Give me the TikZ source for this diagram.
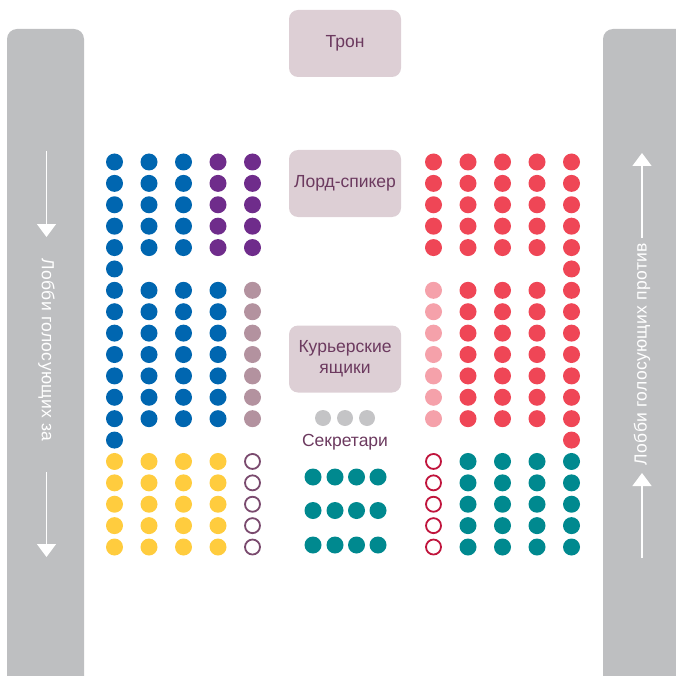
\documentclass[tikz,border=0pt]{standalone}
\usepackage{fontspec}
\setmainfont{Liberation Sans}
\usetikzlibrary{arrows.meta}
\definecolor{lobbygrey}{HTML}{BEBFC1}
\definecolor{boxfill}{HTML}{DDCFD5}
\definecolor{boxtext}{HTML}{6C3A5F}
\definecolor{cblue}{HTML}{0066B0}
\definecolor{cpurple}{HTML}{6F2C8B}
\definecolor{cmauve}{HTML}{B3929F}
\definecolor{cyellow}{HTML}{FFCC3E}
\definecolor{cred}{HTML}{EF4656}
\definecolor{cpink}{HTML}{F5A1AA}
\definecolor{cteal}{HTML}{00898F}
\definecolor{cgrey}{HTML}{C4C4C6}
\definecolor{ringpurple}{HTML}{7A4A6E}
\definecolor{ringred}{HTML}{C0143C}
\begin{document}
\begin{tikzpicture}[x=1pt,y=-1pt,
  seat/.style={circle,inner sep=0pt,minimum size=17pt,fill=#1},
  ring/.style={circle,inner sep=0pt,minimum size=15pt,draw=#1,line width=1.8pt,fill=white},
  rolebox/.style={rounded corners=9pt,fill=boxfill,text=boxtext,minimum width=112pt,minimum height=67pt,inner sep=0pt,align=center,font=\fontsize{17.5}{21}\selectfont},
  lobbytext/.style={text=white,font=\fontsize{17.5}{20}\selectfont\addfontfeatures{LetterSpace=2}},
  lobbyarrow/.style={draw=white,line width=1.3pt,-{Triangle[width=19pt,length=13pt]}}]
\useasboundingbox (0,0) rectangle (676,676);
\clip (0,0) rectangle (676,676);
% lobbies
\fill[lobbygrey,rounded corners=10pt] (7,29) rectangle (84,700);
\fill[lobbygrey,rounded corners=10pt] (603,29) rectangle (700,700);
\node[lobbytext,rotate=-90] (ltext) at (46.5,350) {Лобби голосующих за};
\node[lobbytext,rotate=90] (rtext) at (642,354) {Лобби голосующих против};
\coordinate (la1) at (46.5,151); \coordinate (la2) at (46.5,237);
\coordinate (lb1) at (46.5,472); \coordinate (lb2) at (46.5,557);
\coordinate (ra1) at (642,238); \coordinate (ra2) at (642,153);
\coordinate (rb1) at (642,558); \coordinate (rb2) at (642,473);
\draw[lobbyarrow] (la1) -- (la2);
\draw[lobbyarrow] (lb1) -- (lb2);
\draw[lobbyarrow] (ra1) -- (ra2);
\draw[lobbyarrow] (rb1) -- (rb2);
% boxes
\node[rolebox] (throne) at (345,43.5) {Трон};
\node[rolebox] (speaker) at (345,183.5) {Лорд-спикер};
\node[rolebox] (boxes) at (345,359) {Курьерские\\ящики};
% secretaries
\foreach \i/\x in {1/323,2/345,3/367} \node[seat=cgrey,minimum size=16pt] (sec\i) at (\x,418) {};
\node[text=boxtext,font=\fontsize{17.5}{21}\selectfont] (seclabel) at (345,442) {Секретари};
% centre teal
\foreach \rr/\y in {1/477,2/510.5,3/545}
  \foreach \cc/\x in {1/313,2/335,3/356.5,4/378}
    \node[seat=cteal] (ct\rr\cc) at (\x,\y) {};
% left benches
\foreach \r in {0,...,18}{
  \pgfmathsetmacro{\yy}{162+21.39*\r}
  \foreach \c in {0,...,4}{
    \pgfmathsetmacro{\xx}{114.5+34.5*\c}
    \ifnum\r<5
      \ifnum\c<3 \node[seat=cblue] (L\r-\c) at (\xx,\yy) {};
      \else \node[seat=cpurple] (L\r-\c) at (\xx,\yy) {}; \fi
    \else\ifnum\r=5
      \ifnum\c=0 \node[seat=cblue] (L\r-\c) at (\xx,\yy) {}; \fi
    \else\ifnum\r<13
      \ifnum\c<4 \node[seat=cblue] (L\r-\c) at (\xx,\yy) {};
      \else \node[seat=cmauve] (L\r-\c) at (\xx,\yy) {}; \fi
    \else\ifnum\r=13
      \ifnum\c=0 \node[seat=cblue] (L\r-\c) at (\xx,\yy) {}; \fi
    \else
      \ifnum\c<4 \node[seat=cyellow] (L\r-\c) at (\xx,\yy) {};
      \else \node[ring=ringpurple] (L\r-\c) at (\xx,\yy) {}; \fi
    \fi\fi\fi\fi
  }
}
% right benches
\foreach \r in {0,...,18}{
  \pgfmathsetmacro{\yy}{162+21.39*\r}
  \foreach \c in {0,...,4}{
    \pgfmathsetmacro{\xx}{433.5+34.5*\c}
    \ifnum\r<5
      \node[seat=cred] (R\r-\c) at (\xx,\yy) {};
    \else\ifnum\r=5
      \ifnum\c=4 \node[seat=cred] (R\r-\c) at (\xx,\yy) {}; \fi
    \else\ifnum\r<13
      \ifnum\c=0 \node[seat=cpink] (R\r-\c) at (\xx,\yy) {};
      \else \node[seat=cred] (R\r-\c) at (\xx,\yy) {}; \fi
    \else\ifnum\r=13
      \ifnum\c=4 \node[seat=cred] (R\r-\c) at (\xx,\yy) {}; \fi
    \else
      \ifnum\c=0 \node[ring=ringred] (R\r-\c) at (\xx,\yy) {};
      \else \node[seat=cteal] (R\r-\c) at (\xx,\yy) {}; \fi
    \fi\fi\fi\fi
  }
}
\end{tikzpicture}
\end{document}
